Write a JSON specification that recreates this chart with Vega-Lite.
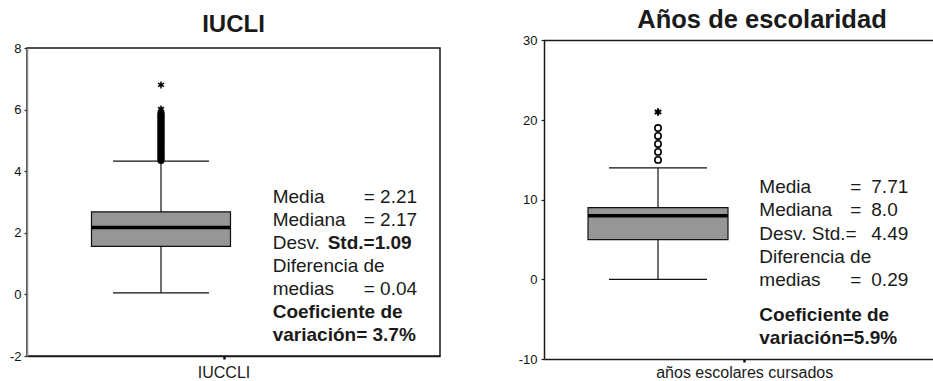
{
  "$schema": "https://vega.github.io/schema/vega-lite/v6.json",
  "padding": {"left": 0, "top": 8, "right": 0, "bottom": 0},
  "spacing": 73,
  "config": {
    "font": "Liberation Sans",
    "axis": {"grid": false, "labelFont": "Liberation Sans", "labelColor": "#111111", "tickColor": "#222222", "domainColor": "#1a1a1a", "domainWidth": 1.5, "tickWidth": 1.2},
    "title": {"font": "Liberation Sans", "color": "#1a1a1a", "fontWeight": "bold", "anchor": "middle", "frame": "group", "baseline": "alphabetic"}
  },
  "datasets": {
    "iucli_box": [{"var": "IUCCLI", "lo": 0.05, "q1": 1.56, "med": 2.17, "q3": 2.68, "hi": 4.33}],
    "iucli_out": [
      {"v": 4.35}, {"v": 4.40}, {"v": 4.45}, {"v": 4.50}, {"v": 4.55}, {"v": 4.60}, {"v": 4.65}, {"v": 4.70},
      {"v": 4.75}, {"v": 4.80}, {"v": 4.85}, {"v": 4.90}, {"v": 4.95}, {"v": 5.00}, {"v": 5.05}, {"v": 5.10},
      {"v": 5.15}, {"v": 5.20}, {"v": 5.25}, {"v": 5.30}, {"v": 5.35}, {"v": 5.40}, {"v": 5.45}, {"v": 5.50},
      {"v": 5.55}, {"v": 5.60}, {"v": 5.65}, {"v": 5.70}, {"v": 5.75}, {"v": 5.80}, {"v": 5.85}, {"v": 5.90}
    ],
    "iucli_ext": [{"v": 6.02}, {"v": 6.8}],
    "iucli_notes": [
      {"col": "a", "txt": "Media\nMediana\nDesv.\nDiferencia de\nmedias"},
      {"col": "b1", "txt": "= 2.21\n= 2.17"},
      {"col": "b2", "txt": "= 0.04"},
      {"col": "s", "txt": "Std.=1.09"},
      {"col": "c", "txt": "Coeficiente de\nvariación= 3.7%"}
    ],
    "anos_box": [{"var": "años escolares cursados", "lo": 0, "q1": 5, "med": 8, "q3": 9, "hi": 14}],
    "anos_out": [{"v": 15}, {"v": 16}, {"v": 17}, {"v": 18}, {"v": 19}],
    "anos_ext": [{"v": 21}],
    "anos_notes": [
      {"col": "a", "txt": "Media\nMediana\nDesv. Std.=\nDiferencia de\nmedias"},
      {"col": "e1", "txt": "=\n="},
      {"col": "e2", "txt": "="},
      {"col": "v1", "txt": "7.71\n8.0\n4.49"},
      {"col": "v2", "txt": "0.29"},
      {"col": "c", "txt": "Coeficiente de\nvariación=5.9%"}
    ]
  },
  "hconcat": [
    {
      "width": 413,
      "height": 308,
      "title": {"text": "IUCLI", "fontSize": 24, "offset": 5.2},
      "view": {"stroke": "#1a1a1a", "strokeWidth": 1.5},
      "layer": [
        {
          "data": {"name": "iucli_box"},
          "mark": {"type": "rule", "color": "#111111", "strokeWidth": 1.2, "xOffset": -63},
          "encoding": {
            "x": {"field": "var", "type": "nominal",
              "scale": {"type": "band", "domain": ["IUCCLI"], "paddingInner": 0, "paddingOuter": 0.5, "align": 0.454},
              "axis": {"title": null, "labelAngle": 0, "labelFontSize": 16, "labelColor": "#1a1a1a", "labelPadding": 18.5, "labelBaseline": "alphabetic", "tickSize": 3, "tickWidth": 2.5, "tickColor": "#111111"}},
            "y": {"field": "lo", "type": "quantitative",
              "scale": {"domain": [-2, 8], "nice": false, "zero": false},
              "axis": {"title": null, "values": [-2, 0, 2, 4, 6, 8], "labelExpr": "toString(datum.value)", "labelFontSize": 13, "tickSize": 3, "labelPadding": 3, "minExtent": 26, "maxExtent": 26, "domainColor": "#8a8a8a", "domainWidth": 1.5}},
            "y2": {"field": "hi"}
          }
        },
        {
          "data": {"name": "iucli_box"},
          "mark": {"type": "bar", "size": 139, "fill": "#969696", "stroke": "#111111", "strokeWidth": 1.2, "xOffset": -63},
          "encoding": {
            "x": {"field": "var", "type": "nominal"},
            "y": {"field": "q1", "type": "quantitative"},
            "y2": {"field": "q3"}
          }
        },
        {
          "data": {"name": "iucli_box"},
          "mark": {"type": "tick", "size": 139, "thickness": 3.5, "color": "#000000", "opacity": 1, "xOffset": -63},
          "encoding": {"x": {"field": "var", "type": "nominal"}, "y": {"field": "med", "type": "quantitative"}}
        },
        {
          "data": {"name": "iucli_box"},
          "mark": {"type": "tick", "size": 96, "thickness": 1.2, "color": "#111111", "opacity": 1, "xOffset": -63},
          "encoding": {"x": {"field": "var", "type": "nominal"}, "y": {"field": "lo", "type": "quantitative"}}
        },
        {
          "data": {"name": "iucli_box"},
          "mark": {"type": "tick", "size": 96, "thickness": 1.2, "color": "#111111", "opacity": 1, "xOffset": -63},
          "encoding": {"x": {"field": "var", "type": "nominal"}, "y": {"field": "hi", "type": "quantitative"}}
        },
        {
          "data": {"name": "iucli_out"},
          "mark": {"type": "point", "shape": "circle", "filled": true, "size": 50, "color": "#000000", "opacity": 1, "xOffset": -63},
          "encoding": {"x": {"datum": "IUCCLI", "type": "nominal"}, "y": {"field": "v", "type": "quantitative"}}
        },
        {
          "data": {"name": "iucli_ext"},
          "mark": {"type": "point", "shape": "M0,-1L0,1M-0.866,-0.5L0.866,0.5M-0.866,0.5L0.866,-0.5", "filled": false, "size": 49, "strokeWidth": 1.5, "color": "#000000", "opacity": 1, "xOffset": -63},
          "encoding": {"x": {"datum": "IUCCLI", "type": "nominal"}, "y": {"field": "v", "type": "quantitative"}}
        },
        {
          "data": {"name": "iucli_notes"},
          "transform": [{"filter": "datum.col === 'a'"}],
          "mark": {"type": "text", "align": "left", "baseline": "alphabetic", "fontSize": 19, "lineHeight": 22.9, "lineBreak": "\n", "color": "#1a1a1a", "dx": 48.7},
          "encoding": {
            "x": {"datum": "IUCCLI", "type": "nominal"},
            "y": {"datum": 2.964, "type": "quantitative"},
            "text": {"field": "txt", "type": "nominal"}
          }
        },
        {
          "data": {"name": "iucli_notes"},
          "transform": [{"filter": "datum.col === 'b1'"}],
          "mark": {"type": "text", "align": "left", "baseline": "alphabetic", "fontSize": 19, "lineHeight": 22.9, "lineBreak": "\n", "color": "#1a1a1a", "dx": 139.7},
          "encoding": {
            "x": {"datum": "IUCCLI", "type": "nominal"},
            "y": {"datum": 2.964, "type": "quantitative"},
            "text": {"field": "txt", "type": "nominal"}
          }
        },
        {
          "data": {"name": "iucli_notes"},
          "transform": [{"filter": "datum.col === 'b2'"}],
          "mark": {"type": "text", "align": "left", "baseline": "alphabetic", "fontSize": 19, "color": "#1a1a1a", "dx": 139.7},
          "encoding": {
            "x": {"datum": "IUCCLI", "type": "nominal"},
            "y": {"datum": -0.01, "type": "quantitative"},
            "text": {"field": "txt", "type": "nominal"}
          }
        },
        {
          "data": {"name": "iucli_notes"},
          "transform": [{"filter": "datum.col === 's'"}],
          "mark": {"type": "text", "align": "left", "baseline": "alphabetic", "fontSize": 19, "fontWeight": "bold", "color": "#1a1a1a", "dx": 103.7},
          "encoding": {
            "x": {"datum": "IUCCLI", "type": "nominal"},
            "y": {"datum": 1.477, "type": "quantitative"},
            "text": {"field": "txt", "type": "nominal"}
          }
        },
        {
          "data": {"name": "iucli_notes"},
          "transform": [{"filter": "datum.col === 'c'"}],
          "mark": {"type": "text", "align": "left", "baseline": "alphabetic", "fontSize": 19, "fontWeight": "bold", "lineHeight": 23.4, "lineBreak": "\n", "color": "#1a1a1a", "dx": 48.7},
          "encoding": {
            "x": {"datum": "IUCCLI", "type": "nominal"},
            "y": {"datum": -0.766, "type": "quantitative"},
            "text": {"field": "txt", "type": "nominal"}
          }
        }
      ]
    },
    {
      "width": 391,
      "height": 311,
      "title": {"text": "Años de escolaridad", "fontSize": 25.5, "offset": 0.6, "dx": 22.5},
      "view": {"stroke": null},
      "layer": [
        {
          "data": {"name": "anos_box"},
          "mark": {"type": "rule", "color": "#111111", "strokeWidth": 1.2, "xOffset": -86.7},
          "encoding": {
            "x": {"field": "var", "type": "nominal",
              "scale": {"type": "band", "domain": ["años escolares cursados"], "paddingInner": 0, "paddingOuter": 0.5, "align": 0.5266},
              "axis": {"title": null, "labelAngle": 0, "labelFontSize": 16, "labelColor": "#1a1a1a", "labelPadding": 15.5, "labelBaseline": "alphabetic", "tickSize": 3, "tickWidth": 2.5, "tickColor": "#111111"}},
            "y": {"field": "lo", "type": "quantitative",
              "scale": {"domain": [-10, 30], "nice": false, "zero": false, "range": [311, -7.6]},
              "axis": {"title": null, "values": [-10, 0, 10, 20, 30], "labelExpr": "toString(datum.value)", "labelFontSize": 13, "tickSize": 3, "labelPadding": 4, "minExtent": 30, "maxExtent": 30}},
            "y2": {"field": "hi"}
          }
        },
        {
          "data": {"name": "anos_box"},
          "mark": {"type": "bar", "size": 140, "fill": "#969696", "stroke": "#111111", "strokeWidth": 1.2, "xOffset": -86.7},
          "encoding": {
            "x": {"field": "var", "type": "nominal"},
            "y": {"field": "q1", "type": "quantitative"},
            "y2": {"field": "q3"}
          }
        },
        {
          "data": {"name": "anos_box"},
          "mark": {"type": "tick", "size": 140, "thickness": 3.5, "color": "#000000", "opacity": 1, "xOffset": -86.7},
          "encoding": {"x": {"field": "var", "type": "nominal"}, "y": {"field": "med", "type": "quantitative"}}
        },
        {
          "data": {"name": "anos_box"},
          "mark": {"type": "tick", "size": 98, "thickness": 1.2, "color": "#111111", "opacity": 1, "xOffset": -86.7},
          "encoding": {"x": {"field": "var", "type": "nominal"}, "y": {"field": "lo", "type": "quantitative"}}
        },
        {
          "data": {"name": "anos_box"},
          "mark": {"type": "tick", "size": 98, "thickness": 1.2, "color": "#111111", "opacity": 1, "xOffset": -86.7},
          "encoding": {"x": {"field": "var", "type": "nominal"}, "y": {"field": "hi", "type": "quantitative"}}
        },
        {
          "data": {"name": "anos_box"},
          "mark": {"type": "rule", "color": "#1a1a1a", "strokeWidth": 1.5},
          "encoding": {"y": {"datum": 30, "type": "quantitative"}}
        },
        {
          "data": {"name": "anos_out"},
          "mark": {"type": "point", "shape": "circle", "filled": false, "fill": "#ffffff", "size": 40, "strokeWidth": 1.6, "color": "#000000", "opacity": 1, "xOffset": -86.7},
          "encoding": {"x": {"datum": "años escolares cursados", "type": "nominal"}, "y": {"field": "v", "type": "quantitative"}}
        },
        {
          "data": {"name": "anos_ext"},
          "mark": {"type": "point", "shape": "M0,-1L0,1M-0.866,-0.5L0.866,0.5M-0.866,0.5L0.866,-0.5", "filled": false, "size": 56, "strokeWidth": 2, "color": "#000000", "opacity": 1, "xOffset": -86.7},
          "encoding": {"x": {"datum": "años escolares cursados", "type": "nominal"}, "y": {"field": "v", "type": "quantitative"}}
        },
        {
          "data": {"name": "anos_notes"},
          "transform": [{"filter": "datum.col === 'a'"}],
          "mark": {"type": "text", "align": "left", "baseline": "alphabetic", "fontSize": 19, "lineHeight": 23.33, "lineBreak": "\n", "color": "#1a1a1a", "dx": 14.6},
          "encoding": {
            "x": {"datum": "años escolares cursados", "type": "nominal"},
            "y": {"datum": 10.84, "type": "quantitative"},
            "text": {"field": "txt", "type": "nominal"}
          }
        },
        {
          "data": {"name": "anos_notes"},
          "transform": [{"filter": "datum.col === 'e1'"}],
          "mark": {"type": "text", "align": "left", "baseline": "alphabetic", "fontSize": 19, "lineHeight": 23.33, "lineBreak": "\n", "color": "#1a1a1a", "dx": 105.6},
          "encoding": {
            "x": {"datum": "años escolares cursados", "type": "nominal"},
            "y": {"datum": 10.84, "type": "quantitative"},
            "text": {"field": "txt", "type": "nominal"}
          }
        },
        {
          "data": {"name": "anos_notes"},
          "transform": [{"filter": "datum.col === 'e2'"}],
          "mark": {"type": "text", "align": "left", "baseline": "alphabetic", "fontSize": 19, "color": "#1a1a1a", "dx": 105.6},
          "encoding": {
            "x": {"datum": "años escolares cursados", "type": "nominal"},
            "y": {"datum": -0.87, "type": "quantitative"},
            "text": {"field": "txt", "type": "nominal"}
          }
        },
        {
          "data": {"name": "anos_notes"},
          "transform": [{"filter": "datum.col === 'v1'"}],
          "mark": {"type": "text", "align": "left", "baseline": "alphabetic", "fontSize": 19, "lineHeight": 23.33, "lineBreak": "\n", "color": "#1a1a1a", "dx": 126.6},
          "encoding": {
            "x": {"datum": "años escolares cursados", "type": "nominal"},
            "y": {"datum": 10.84, "type": "quantitative"},
            "text": {"field": "txt", "type": "nominal"}
          }
        },
        {
          "data": {"name": "anos_notes"},
          "transform": [{"filter": "datum.col === 'v2'"}],
          "mark": {"type": "text", "align": "left", "baseline": "alphabetic", "fontSize": 19, "color": "#1a1a1a", "dx": 126.6},
          "encoding": {
            "x": {"datum": "años escolares cursados", "type": "nominal"},
            "y": {"datum": -0.87, "type": "quantitative"},
            "text": {"field": "txt", "type": "nominal"}
          }
        },
        {
          "data": {"name": "anos_notes"},
          "transform": [{"filter": "datum.col === 'c'"}],
          "mark": {"type": "text", "align": "left", "baseline": "alphabetic", "fontSize": 19, "fontWeight": "bold", "lineHeight": 22.7, "lineBreak": "\n", "color": "#1a1a1a", "dx": 14.6},
          "encoding": {
            "x": {"datum": "años escolares cursados", "type": "nominal"},
            "y": {"datum": -5.21, "type": "quantitative"},
            "text": {"field": "txt", "type": "nominal"}
          }
        }
      ]
    }
  ]
}
